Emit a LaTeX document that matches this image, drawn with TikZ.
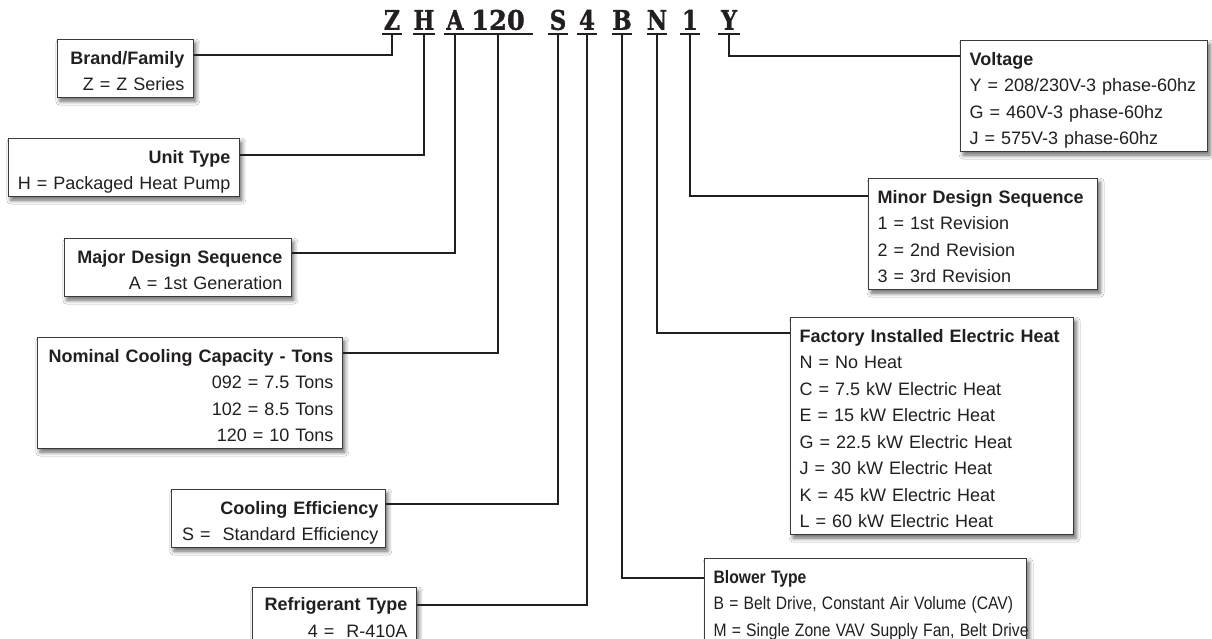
\documentclass[tikz,border=0pt]{standalone}
\usepackage{fontspec}
\setmainfont{Liberation Sans}
\newfontfamily\codefont{DejaVu Serif Bold}[FakeBold=1.3]
\usetikzlibrary{shadows.blur}
\definecolor{ink}{HTML}{231F20}
\definecolor{frame}{HTML}{3A3A3A}
\newcommand\ls{\rule[-4.5pt]{0pt}{26.5pt}}
\newcommand\cz[1]{\scalebox{0.87}[1]{#1}}
\begin{document}
\begin{tikzpicture}[x=1pt,y=-1pt,
  infobox/.style={draw=frame, line width=1.2pt, fill=white, inner xsep=9pt, inner ysep=2.5pt,
    font=\fontsize{18}{26.5}\selectfont, text=ink,
    blur shadow={shadow xshift=2.5pt, shadow yshift=-3.5pt, shadow blur radius=4pt, shadow opacity=60}},
  leftbox/.style={infobox, anchor=north east, align=right},
  rightbox/.style={infobox, anchor=north west, align=left},
  code/.style={font=\codefont\fontsize{27}{27}\selectfont, text=ink, inner xsep=0pt,
    inner ysep=4pt, text depth=0pt, anchor=south},
  link/.style={draw=ink, line width=2pt},
  uline/.style={draw=ink, line width=2pt},
]
\fill[white] (0,0) rectangle (1212,639);
\useasboundingbox (0,0) rectangle (1212,639);

% code letters
\node[code, minimum width=20pt] (lZ) at (392,34) {\scalebox{0.82}[1]{Z}};
\node[code, minimum width=21pt] (lH) at (424,34) {\scalebox{0.82}[1]{H}};
\node[code, minimum width=21pt] (lA) at (455,34) {\scalebox{0.82}[1]{A}};
\node[code, minimum width=70pt] (l120) at (498,34) {\scalebox{0.95}[1]{120}};
\node[code, minimum width=20pt] (lS) at (558,34) {\scalebox{0.85}[1]{S}};
\node[code, minimum width=20pt] (l4) at (587,34) {\scalebox{0.85}[1]{4}};
\node[code, minimum width=20pt] (lB) at (622,34) {\scalebox{0.85}[1]{B}};
\node[code, minimum width=20pt] (lN) at (657,34) {\scalebox{0.82}[1]{N}};
\node[code, minimum width=20pt] (l1) at (690,34) {\scalebox{0.85}[1]{1}};
\node[code, minimum width=22pt] (lY) at (729,34) {\scalebox{0.82}[1]{Y}};
\foreach \n in {lZ,lH,lA,l120,lS,l4,lB,lN,l1,lY}
  \draw[uline] (\n.south west) -- (\n.south east);

% left boxes
\node[leftbox, text width=118pt] (brand) at (194,39)
  {\ls\textbf{Brand/Family}\\\ls Z = Z Series};
\node[leftbox, text width=213pt] (unit) at (240,138)
  {\ls\textbf{Unit Type}\\\ls H = Packaged Heat Pump};
\node[leftbox, text width=209pt] (major) at (292,238)
  {\ls\textbf{Major Design Sequence}\\\ls A = 1st Generation};
\node[leftbox, text width=287pt] (nominal) at (343,337)
  {\ls\textbf{Nominal Cooling Capacity - Tons}\\\ls 092 = 7.5 Tons\\\ls 102 = 8.5 Tons\\\ls 120 = 10 Tons};
\node[leftbox, inner xsep=7pt, text width=200pt] (cooling) at (386,489)
  {\ls\textbf{Cooling Efficiency}\\\ls S = \ Standard Efficiency};
\node[leftbox, inner ysep=1pt, text width=146pt] (refrig) at (417,587)
  {\ls\textbf{Refrigerant Type}\\\ls 4 = \ R-410A};

% right boxes
\node[rightbox, text width=229pt] (voltage) at (960,40)
  {\ls\textbf{Voltage}\\\ls Y = 208/230V-3 phase-60hz\\\ls G = 460V-3 phase-60hz\\\ls J = 575V-3 phase-60hz};
\node[rightbox, text width=211pt] (minor) at (868,178)
  {\ls\textbf{Minor Design Sequence}\\\ls 1 = 1st Revision\\\ls 2 = 2nd Revision\\\ls 3 = 3rd Revision};
\node[rightbox, text width=265pt] (heat) at (790,317)
  {\ls\textbf{Factory Installed Electric Heat}\\\ls N = No Heat\\\ls C = 7.5 kW Electric Heat\\\ls E = 15 kW Electric Heat\\\ls G = 22.5 kW Electric Heat\\\ls J = 30 kW Electric Heat\\\ls K = 45 kW Electric Heat\\\ls L = 60 kW Electric Heat};
\node[rightbox, text width=304pt] (blower) at (704,558)
  {\ls\cz{\textbf{Blower Type}}\\\ls\cz{B = Belt Drive, Constant Air Volume (CAV)}\\\ls\cz{M = Single Zone VAV Supply Fan, Belt Drive}};

% connectors
\draw[link] (lZ.south) |- ([yshift=-16pt]brand.north east);
\draw[link] (lH.south) |- ([yshift=-17pt]unit.north east);
\draw[link] (lA.south) |- ([yshift=-15pt]major.north east);
\draw[link] (l120.south) |- ([yshift=-16pt]nominal.north east);
\draw[link] (lS.south) |- ([yshift=-15pt]cooling.north east);
\draw[link] (l4.south) |- ([yshift=-18pt]refrig.north east);
\draw[link] (lY.south) |- ([yshift=-16pt]voltage.north west);
\draw[link] (l1.south) |- ([yshift=-18pt]minor.north west);
\draw[link] (lN.south) |- ([yshift=-16pt]heat.north west);
\draw[link] (lB.south) |- ([yshift=-20pt]blower.north west);
\end{tikzpicture}
\end{document}
